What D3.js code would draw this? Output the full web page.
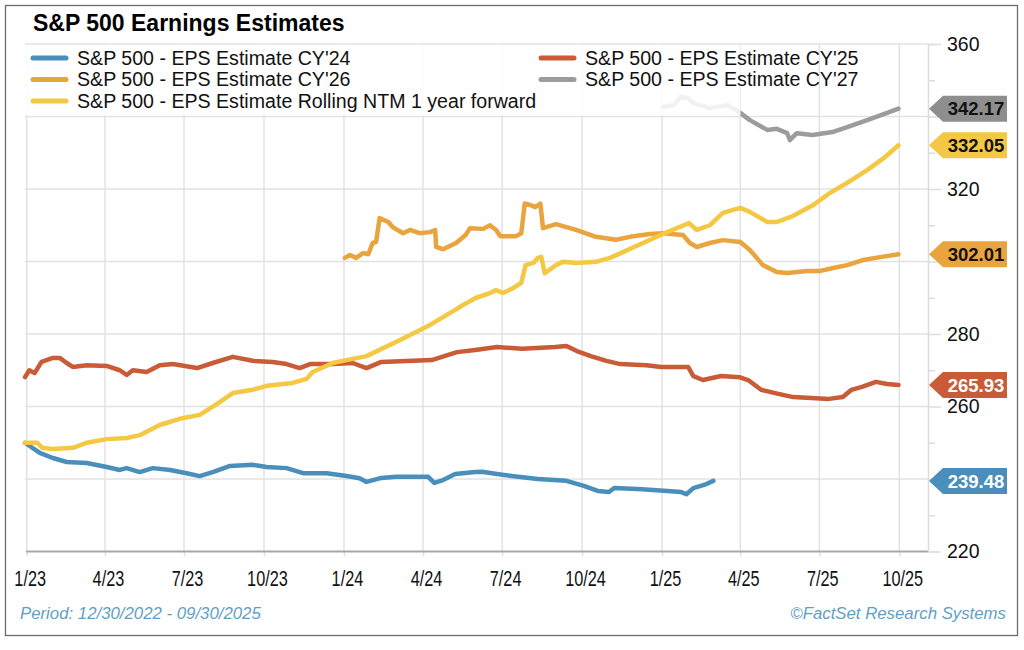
<!DOCTYPE html>
<html>
<head>
<meta charset="utf-8">
<script src="https://cdn.jsdelivr.net/npm/d3@7"></script>
<style>
  body { margin: 0; background: #fff; }
  svg text { font-family: "Liberation Sans", Arial, sans-serif; }
</style>
</head>
<body>
<div id="chart"></div>
<script>
// Data
const cy24Dates = ['2022-12-30','2023-01-16','2023-01-31','2023-02-16','2023-03-11','2023-04-03','2023-04-18','2023-04-26','2023-05-11','2023-05-26','2023-06-15','2023-07-04','2023-07-19','2023-08-03','2023-08-23','2023-09-18','2023-10-04','2023-10-27','2023-11-15','2023-12-12','2024-01-04','2024-01-19','2024-01-27','2024-02-13','2024-03-01','2024-04-07','2024-04-14','2024-04-24','2024-05-08','2024-05-31','2024-06-08','2024-06-25','2024-07-12','2024-08-11','2024-09-13','2024-10-03','2024-10-19','2024-11-01','2024-11-07','2024-12-09','2025-01-07','2025-01-23','2025-01-29','2025-02-06','2025-02-21','2025-03-01']
const cy24Values = [250.0,247.2,245.8,244.7,244.4,243.3,242.5,243.0,241.9,243.0,242.5,241.6,240.8,241.9,243.6,243.9,243.3,243.0,241.6,241.6,240.8,240.2,239.2,240.3,240.6,240.6,238.9,239.7,241.4,241.9,242.0,241.4,240.8,240.0,239.5,238.1,236.7,236.4,237.5,237.2,236.7,236.4,235.8,237.5,238.6,239.48]

const cy25Dates = ['2022-12-30','2023-01-04','2023-01-10','2023-01-18','2023-01-31','2023-02-08','2023-02-16','2023-02-23','2023-03-11','2023-04-03','2023-04-18','2023-04-26','2023-05-03','2023-05-19','2023-06-03','2023-06-18','2023-07-16','2023-08-03','2023-08-26','2023-09-18','2023-10-11','2023-10-27','2023-11-11','2023-11-23','2023-12-19','2024-01-11','2024-01-27','2024-02-13','2024-04-11','2024-05-10','2024-05-31','2024-06-25','2024-07-24','2024-08-31','2024-09-13','2024-09-25','2024-10-11','2024-10-29','2024-11-14','2024-12-14','2024-12-31','2025-01-31','2025-02-06','2025-02-17','2025-03-10','2025-03-31','2025-04-10','2025-04-25','2025-05-11','2025-06-01','2025-07-12','2025-07-28','2025-08-07','2025-08-19','2025-09-04','2025-09-17','2025-09-30']
const cy25Values = [268.1,270.0,269.2,272.3,273.4,273.4,272.0,270.9,271.4,271.2,270.0,268.7,270.0,269.5,271.4,271.7,270.6,272.0,273.7,272.6,272.3,271.7,270.6,271.7,271.7,272.0,270.6,272.3,272.8,275.0,275.6,276.4,275.9,276.4,276.7,275.3,273.9,272.6,271.7,271.4,270.9,270.9,268.4,267.3,268.4,268.1,267.3,264.6,263.7,262.6,262.1,262.6,264.6,265.4,266.8,266.2,265.93]

const cy26Dates = ['2024-01-02','2024-01-08','2024-01-15','2024-01-23','2024-01-29','2024-02-03','2024-02-07','2024-02-11','2024-02-21','2024-02-26','2024-03-09','2024-03-17','2024-03-28','2024-04-09','2024-04-15','2024-04-16','2024-04-24','2024-05-09','2024-05-20','2024-05-25','2024-06-09','2024-06-17','2024-06-24','2024-06-29','2024-07-17','2024-07-23','2024-07-27','2024-08-02','2024-08-08','2024-08-14','2024-08-17','2024-09-01','2024-09-24','2024-10-17','2024-11-09','2024-11-25','2024-12-18','2025-01-02','2025-01-25','2025-02-02','2025-02-10','2025-02-25','2025-03-12','2025-04-01','2025-04-12','2025-04-27','2025-05-13','2025-05-25','2025-06-17','2025-07-02','2025-07-17','2025-08-02','2025-08-20','2025-09-09','2025-09-30']
const cy26Values = [301.0,301.8,301.0,302.3,302.0,305.1,305.4,312.0,310.9,309.5,307.8,308.7,307.8,308.1,308.7,304.0,303.4,305.1,307.3,309.2,309.0,310.0,308.7,307.0,307.0,307.8,316.0,315.6,315.0,316.0,309.2,310.3,308.7,306.8,306.0,306.8,307.6,307.8,307.3,305.1,304.0,305.1,305.9,305.4,303.2,299.0,297.1,296.8,297.4,297.4,298.2,299.0,300.4,301.2,302.01]

const cy27Dates = ['2025-01-02','2025-01-15','2025-01-22','2025-01-30','2025-02-06','2025-02-25','2025-03-17','2025-04-01','2025-04-12','2025-05-02','2025-05-13','2025-05-25','2025-05-28','2025-06-05','2025-06-23','2025-07-16','2025-08-02','2025-08-25','2025-09-17','2025-09-30']
const cy27Values = [342.6,343.2,345.4,345.1,343.7,342.3,343.2,341.0,339.0,336.3,336.6,335.4,333.5,335.4,334.9,335.7,337.1,339.0,341.0,342.17]

const ntmDates = ['2022-12-30','2023-01-13','2023-01-19','2023-01-31','2023-02-23','2023-03-11','2023-04-03','2023-04-26','2023-05-11','2023-06-03','2023-06-26','2023-07-19','2023-08-11','2023-08-26','2023-09-18','2023-10-04','2023-11-03','2023-11-19','2023-11-26','2023-12-19','2024-01-04','2024-01-27','2024-03-05','2024-04-09','2024-05-09','2024-05-17','2024-06-01','2024-06-17','2024-06-24','2024-07-02','2024-07-14','2024-07-23','2024-07-28','2024-08-06','2024-08-11','2024-08-15','2024-08-19','2024-09-01','2024-09-09','2024-09-24','2024-10-17','2024-11-02','2024-11-17','2024-12-10','2025-01-02','2025-01-26','2025-02-01','2025-02-10','2025-02-25','2025-03-12','2025-04-01','2025-04-12','2025-05-02','2025-05-13','2025-06-01','2025-06-24','2025-07-13','2025-08-02','2025-08-25','2025-09-13','2025-09-30']
const ntmValues = [250.0,250.0,248.6,248.3,248.6,250.0,251.0,251.3,252.1,254.9,256.6,257.7,261.2,263.7,264.6,265.7,266.5,267.6,269.5,272.0,272.8,273.9,278.3,282.5,286.8,288.0,290.0,291.3,292.1,291.3,292.7,294.1,299.0,299.6,301.0,301.3,296.8,299.0,299.9,299.6,299.9,301.0,302.6,305.1,307.6,310.0,310.6,308.7,310.0,313.4,314.8,313.7,310.9,310.9,312.6,315.6,318.9,321.7,325.2,328.5,332.05]

const xTickDates = ['2023-01-01','2023-04-01','2023-07-01','2023-10-01','2024-01-01','2024-04-01','2024-07-01','2024-10-01','2025-01-01','2025-04-01','2025-07-01','2025-10-01']
const xTickLabels = ['1/23','4/23','7/23','10/23','1/24','4/24','7/24','10/24','1/25','4/25','7/25','10/25']
const yMajorTicks = [220,240,260,280,300,320,340,360]
const yMinorTicks = [230,250,270,290,310,330,350]
// labels hidden behind the value badges in the original
const yHiddenLabels = [240,300,340]

// Helpers
const parseDate = d3.timeParse('%Y-%m-%d')
const toPoints = (dates, values) => d3.zip(dates, values).map(([d, v]) => ({ date: parseDate(d), value: v }))

;(({
    selectorForRoot,
    width,
    height,
    plot : { left, right, top, bottom },
    colors
  }) => {
  const root = d3.select(selectorForRoot)
  const svg = root.append('svg')
    .attr('width', width)
    .attr('height', height)

  const series = [
    { key: 'cy24', name: "S&P 500 - EPS Estimate CY'24", data: toPoints(cy24Dates, cy24Values), color: colors.cy24, text: '#fff' },
    { key: 'cy25', name: "S&P 500 - EPS Estimate CY'25", data: toPoints(cy25Dates, cy25Values), color: colors.cy25, text: '#fff' },
    { key: 'cy26', name: "S&P 500 - EPS Estimate CY'26", data: toPoints(cy26Dates, cy26Values), color: colors.cy26, text: '#111' },
    { key: 'cy27', name: "S&P 500 - EPS Estimate CY'27", data: toPoints(cy27Dates, cy27Values), color: colors.cy27, text: '#111' },
    { key: 'ntm', name: 'S&P 500 - EPS Estimate Rolling NTM 1 year forward', data: toPoints(ntmDates, ntmValues), color: colors.ntm, text: '#111' }
  ]
  const byKey = Object.fromEntries(series.map(s => [s.key, s]))

  // Scales
  const x = d3.scaleTime()
    .domain([parseDate('2022-12-30'), parseDate('2025-11-03')])
    .range([left, right])
  const y = d3.scaleLinear()
    .domain([220, 360])
    .range([bottom, top])

  // Outer frame
  svg.append('rect')
    .attr('x', 5.5).attr('y', 5.5)
    .attr('width', width - 12).attr('height', 630)
    .attr('fill', 'none')
    .attr('stroke', '#6b6b6b')
    .attr('stroke-width', 1.3)

  // Title
  svg.append('text')
    .attr('x', 33).attr('y', 31)
    .attr('font-size', 23)
    .attr('font-weight', 'bold')
    .attr('fill', '#000')
    .text('S&P 500 Earnings Estimates')

  // Grid
  const grid = svg.append('g')
  grid.selectAll('.hgrid')
    .data(yMajorTicks.filter(v => v > 220))
    .enter()
    .append('line')
    .attr('x1', left).attr('x2', right)
    .attr('y1', v => y(v)).attr('y2', v => y(v))
    .attr('stroke', '#e2e2e2')
    .attr('stroke-width', 1.5)
  grid.selectAll('.vgrid')
    .data(xTickDates.map(parseDate))
    .enter()
    .append('line')
    .attr('x1', d => x(d)).attr('x2', d => x(d))
    .attr('y1', top).attr('y2', bottom)
    .attr('stroke', '#e2e2e2')
    .attr('stroke-width', 1.5)

  // X axis
  const xAxis = d3.axisBottom(x)
    .tickValues(xTickDates.map(parseDate))
    .tickFormat((d, i) => xTickLabels[i])
    .tickSize(5)
    .tickPadding(14)
  const gx = svg.append('g')
    .attr('transform', `translate(0,${bottom})`)
    .call(xAxis)
  gx.select('.domain').remove()
  gx.selectAll('.tick line').attr('stroke', '#e2e2e2').attr('stroke-width', 1.5)
  // condensed look of the original tick labels
  gx.selectAll('.tick text')
    .attr('font-size', 22)
    .attr('fill', '#111')
    .attr('x', 4)
    .attr('transform', 'scale(0.74,1)')
  svg.append('line')
    .attr('x1', left + 1).attr('x2', right)
    .attr('y1', bottom).attr('y2', bottom)
    .attr('stroke', '#a8a8a8')
    .attr('stroke-width', 2)

  // Y axis (right)
  const gyMinor = svg.append('g')
    .attr('transform', `translate(${right},0)`)
    .call(d3.axisRight(y).tickValues(yMinorTicks).tickSize(7).tickFormat(''))
  gyMinor.select('.domain').attr('stroke', '#dcdcdc').attr('stroke-width', 1.5)
  gyMinor.selectAll('.tick line').attr('stroke', '#dcdcdc').attr('stroke-width', 1.5)
  const gy = svg.append('g')
    .attr('transform', `translate(${right},0)`)
    .call(d3.axisRight(y)
      .tickValues(yMajorTicks)
      .tickSize(13)
      .tickFormat(v => yHiddenLabels.includes(v) ? '' : v))
  gy.select('.domain').remove()
  gy.selectAll('.tick line').attr('stroke', '#dcdcdc').attr('stroke-width', 1.5)
  gy.selectAll('.tick text')
    .attr('font-size', 19.5)
    .attr('fill', '#111')
    .attr('x', 19)

  // Lines
  const line = d3.line()
    .x(d => x(d.date))
    .y(d => y(d.value))
  ;['cy24', 'cy25', 'cy26', 'cy27', 'ntm'].forEach(k => {
    svg.append('path')
      .datum(byKey[k].data)
      .attr('d', line)
      .attr('fill', 'none')
      .attr('stroke', byKey[k].color)
      .attr('stroke-width', 4.5)
      .attr('stroke-linejoin', 'round')
      .attr('stroke-linecap', 'round')
  })

  // Legend (semi transparent box over plot)
  const legend = svg.append('g')
  legend.append('rect')
    .attr('x', left + 0.5).attr('y', top + 1)
    .attr('width', 715).attr('height', y(340) - top - 2)
    .attr('fill', '#fff')
    .attr('fill-opacity', 0.86)
  const legendItems = [
    { key: 'cy24', col: 0, row: 0 },
    { key: 'cy26', col: 0, row: 1 },
    { key: 'ntm', col: 0, row: 2 },
    { key: 'cy25', col: 1, row: 0 },
    { key: 'cy27', col: 1, row: 1 }
  ]
  const colX = [33, 541]
  const rowY = [58, 79.5, 101]
  const items = legend.selectAll('.item')
    .data(legendItems)
    .enter()
    .append('g')
    .attr('transform', item => `translate(${colX[item.col]},${rowY[item.row]})`)
  items.append('line')
    .attr('x1', 0).attr('x2', 33)
    .attr('stroke', item => byKey[item.key].color)
    .attr('stroke-width', 5)
    .attr('stroke-linecap', 'round')
  items.append('text')
    .attr('x', 44)
    .attr('dy', '0.35em')
    .attr('font-size', 19.6)
    .attr('fill', '#111')
    .text(item => byKey[item.key].name)

  // Last value badges
  const badges = svg.append('g')
    .selectAll('g')
    .data(series)
    .enter()
    .append('g')
    .attr('transform', s => `translate(${right + 1},${y(s.data[s.data.length - 1].value)})`)
  badges.append('path')
    .attr('d', 'M0,0 L14,-13 L78,-13 L78,13 L14,13 Z')
    .attr('fill', s => s.key === 'cy27' ? colors.cy27Badge : s.color)
  badges.append('text')
    .attr('x', 47)
    .attr('dy', '0.36em')
    .attr('text-anchor', 'middle')
    .attr('font-size', 18.5)
    .attr('font-weight', 'bold')
    .attr('fill', s => s.text)
    .text(s => s.data[s.data.length - 1].value.toFixed(2))

  // Footer
  const footer = svg.append('g')
    .attr('font-style', 'italic')
    .attr('font-size', 16.8)
    .attr('fill', '#5f9fc6')
  footer.append('text')
    .attr('x', 20).attr('y', 619)
    .text('Period: 12/30/2022 - 09/30/2025')
  footer.append('text')
    .attr('x', 1006).attr('y', 619)
    .attr('text-anchor', 'end')
    .text('©FactSet Research Systems')
})({
  selectorForRoot : '#chart',
  width : 1024,
  height : 650,
  plot : {
    left : 25,
    right : 928,
    top : 44,
    bottom : 551.5
  },
  colors : {
    cy24 : '#4a8fbc',
    cy25 : '#c95b37',
    cy26 : '#e9a43e',
    cy27 : '#9c9c9c',
    cy27Badge : '#8e8e8e',
    ntm : '#f4c843'
  }
});
</script>
</body>
</html>
